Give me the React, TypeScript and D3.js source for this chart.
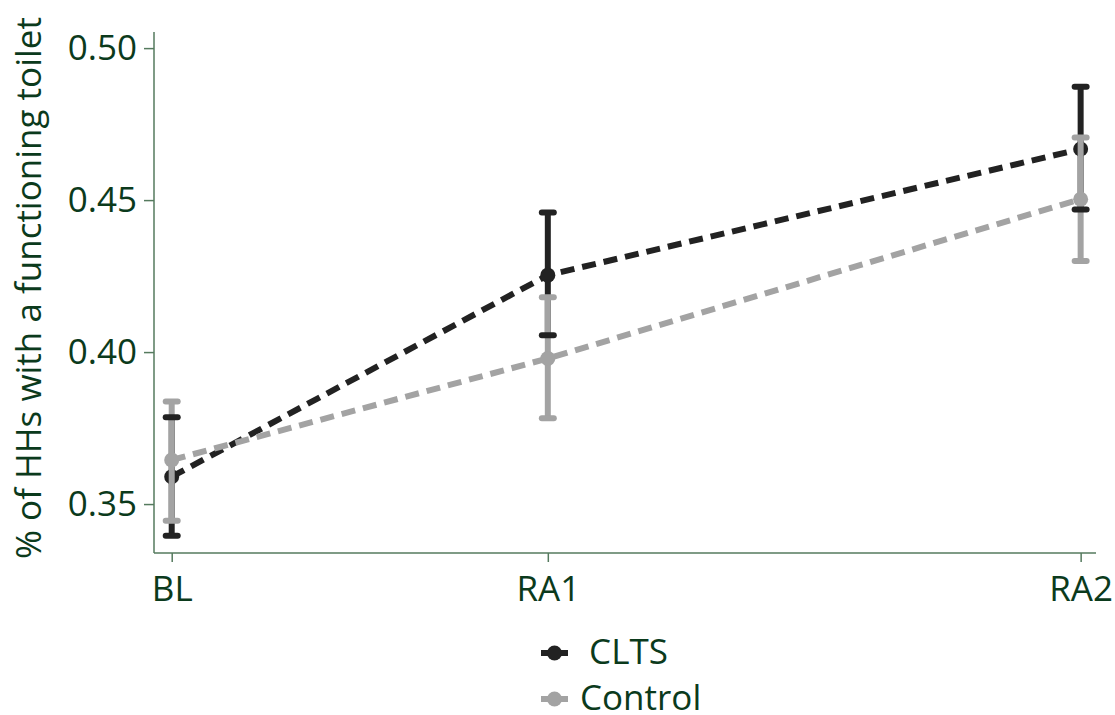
import React, { useEffect, useRef } from 'react';
import * as d3 from 'd3';

// survey rounds (x = months since baseline, estimated from tick spacing)
const rounds = ['BL', 'RA1', 'RA2'];
const roundX = [0, 12, 29];

const cltsMean = [0.359, 0.4253, 0.4668];
const cltsLow = [0.3396, 0.4055, 0.4469];
const cltsHigh = [0.3786, 0.4459, 0.4873];

const controlMean = [0.3645, 0.3979, 0.4503];
const controlLow = [0.3445, 0.3782, 0.43];
const controlHigh = [0.3837, 0.418, 0.4706];

const yTicks = [0.35, 0.4, 0.45, 0.5];
const legendLabels = [' CLTS', 'Control'];

const App = () => {
  const chartRef = useRef<SVGSVGElement>(null);

  useEffect(() => {
    const svg = d3.select(chartRef.current);
    svg.selectAll('*').remove();

    const font = "'Open Sans', 'Noto Sans', sans-serif";
    const fontSize = '35px';
    const textColor = '#0b3a1c';
    const axisColor = '#557a5e';
    const dark = '#222222';
    const grey = '#a3a3a3';

    const x = d3.scaleLinear().domain([-0.565, 29.49]).range([154, 1096]);
    const y = d3.scaleLinear().domain([0.3339, 0.5053]).range([553, 32]);

    const series = [
      { name: legendLabels[0], color: dark, mean: cltsMean, low: cltsLow, high: cltsHigh },
      { name: legendLabels[1], color: grey, mean: controlMean, low: controlLow, high: controlHigh },
    ];

    // eixos
    const yAxis = svg.append('g')
      .attr('transform', `translate(${x.range()[0]},0)`)
      .call(d3.axisLeft(y).tickValues(yTicks).tickFormat(d3.format('.2f')).tickSize(10).tickPadding(7));
    const xAxis = svg.append('g')
      .attr('transform', `translate(0,${y.range()[0]})`)
      .call(d3.axisBottom(x).tickValues(roundX).tickFormat((d, i) => rounds[i]).tickSize(9).tickPadding(14));

    [yAxis, xAxis].forEach(ax => {
      ax.select('.domain').attr('stroke', axisColor).attr('stroke-width', 1.5);
      ax.selectAll('.tick line').attr('stroke', axisColor).attr('stroke-width', 1.5);
      ax.selectAll('.tick text')
        .attr('fill', textColor)
        .style('font-family', font)
        .style('font-size', fontSize);
    });
    // domain sem ticks externos
    yAxis.select('.domain').attr('d', `M0,${y.range()[0]}V${y.range()[1]}`);
    xAxis.select('.domain').attr('d', `M${x.range()[0]},0H${x.range()[1]}`);

    svg.append('text')
      .attr('transform', `translate(41,288) rotate(-90)`)
      .attr('text-anchor', 'middle')
      .attr('fill', textColor)
      .style('font-family', font)
      .style('font-size', fontSize)
      .text('% of HHs with a functioning toilet');

    const line = d3.line<number>()
      .x((d, i) => x(roundX[i]))
      .y(d => y(d));

    // linhas tracejadas
    series.forEach(s => {
      svg.append('path')
        .datum(s.mean)
        .attr('d', line)
        .attr('fill', 'none')
        .attr('stroke', s.color)
        .attr('stroke-width', 6)
        .attr('stroke-dasharray', '14,8');
    });

    // barras de erro
    series.forEach(s => {
      svg.append('g').selectAll('line')
        .data(roundX)
        .enter().append('line')
        .attr('x1', d => x(d))
        .attr('x2', d => x(d))
        .attr('y1', (d, i) => y(s.low[i]))
        .attr('y2', (d, i) => y(s.high[i]))
        .attr('stroke', s.color)
        .attr('stroke-width', 6);
      svg.append('g').selectAll('circle')
        .data(roundX)
        .enter().append('circle')
        .attr('cx', d => x(d))
        .attr('cy', (d, i) => y(s.mean[i]))
        .attr('r', 7.5)
        .attr('fill', s.color);
    });
    series.forEach(s => {
      const caps = svg.append('g');
      [s.low, s.high].forEach(vals => {
        caps.selectAll(null)
          .data(roundX)
          .enter().append('line')
          .attr('x1', d => x(d) - 6)
          .attr('x2', d => x(d) + 6)
          .attr('y1', (d, i) => y(vals[i]))
          .attr('y2', (d, i) => y(vals[i]))
          .attr('stroke', s.color)
          .attr('stroke-width', 6)
          .attr('stroke-linecap', 'round');
      });
    });

    // legenda
    const legend = svg.append('g')
      .selectAll('g')
      .data(series)
      .enter().append('g')
      .attr('transform', (d, i) => `translate(541,${653 + i * 46})`);
    legend.append('line')
      .attr('x1', 0).attr('x2', 27)
      .attr('stroke', d => d.color)
      .attr('stroke-width', 6);
    legend.append('circle')
      .attr('cx', 13.5)
      .attr('r', 7.5)
      .attr('fill', d => d.color);
    legend.append('text')
      .attr('x', 39)
      .attr('y', 11)
      .attr('fill', textColor)
      .style('font-family', font)
      .style('font-size', fontSize)
      .style('white-space', 'pre')
      .text(d => d.name);
  }, []);

  return (
    <svg
      ref={chartRef}
      width={1115}
      height={715}
      style={{ position: 'absolute', left: 0, top: 0, background: '#fff' }}
    />
  );
};

export default App;
